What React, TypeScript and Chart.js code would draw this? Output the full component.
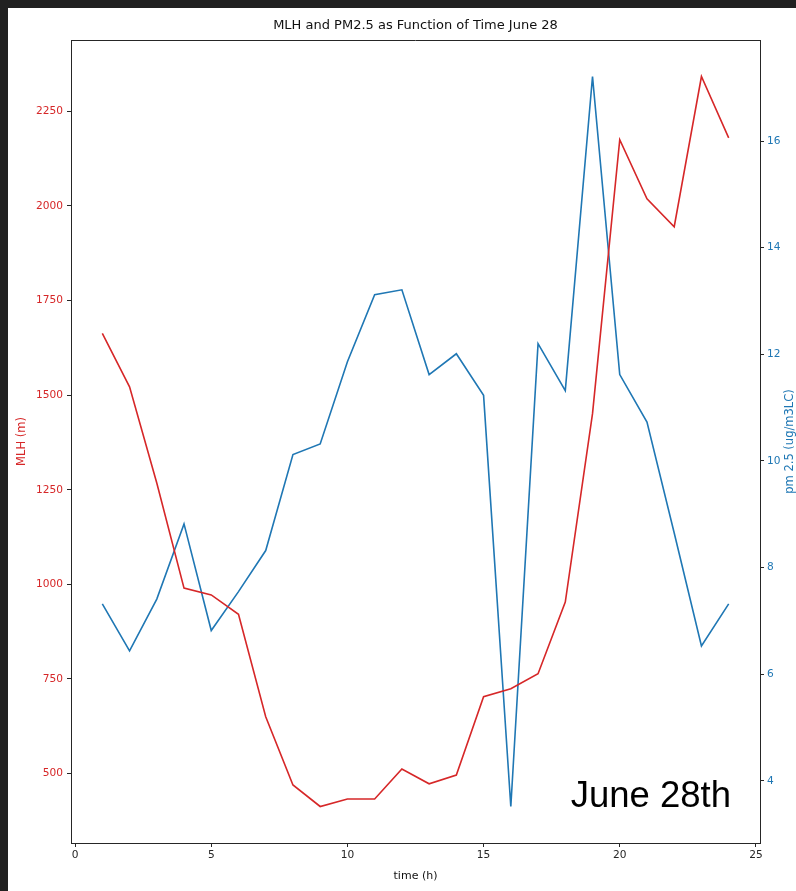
import { useEffect, useRef } from 'react';
import { Chart, registerables } from 'chart.js';

Chart.register(...registerables);

// Hour of day
const hours = [1, 2, 3, 4, 5, 6, 7, 8, 9, 10, 11, 12, 13, 14, 15, 16, 17, 18, 19, 20, 21, 22, 23, 24];

// Mixing layer height (m)
const mlh = [
  1663, 1522, 1268, 990, 972, 921, 650, 470, 413, 433, 433, 512,
  473, 496, 703, 724, 764, 953, 1451, 2175, 2019, 1945, 2342, 2180,
];

// PM2.5 concentration (ug/m3LC)
const pm25 = [
  7.32, 6.44, 7.41, 8.82, 6.82, 7.55, 8.32, 10.12, 10.32, 11.86, 13.12, 13.21,
  11.62, 12.01, 11.23, 3.52, 12.2, 11.32, 17.21, 11.62, 10.73, 8.65, 6.53, 7.32,
];

const timeTicks = [0, 5, 10, 15, 20, 25];
const mlhTicks = [500, 750, 1000, 1250, 1500, 1750, 2000, 2250];
const pmTicks = [4, 6, 8, 10, 12, 14, 16];

const TITLE = 'MLH and PM2.5 as Function of Time June 28';
const X_TITLE = 'time (h)';
const Y_TITLE = 'MLH (m)';
const Y2_TITLE = 'pm 2.5 (ug/m3LC)';
const NOTE = 'June 28th';

const RED = '#d62728';
const BLUE = '#1f77b4';
const INK = '#262626';
const FONT = "'DejaVu Sans', sans-serif";

// Data limits with a 5% margin on each side
function paddedRange(values: number[], frac = 0.05): [number, number] {
  const lo = Math.min(...values);
  const hi = Math.max(...values);
  const span = hi - lo;
  return [lo - span * frac, hi + span * frac];
}

const plainNumber = (v: number | string) => String(v);

const textPlugin = {
  id: 'frameAndText',
  afterDraw(chart: Chart) {
    const { ctx, chartArea } = chart;
    const { left, right, top, bottom } = chartArea;
    ctx.save();

    // top spine
    ctx.strokeStyle = INK;
    ctx.lineWidth = 1;
    ctx.beginPath();
    ctx.moveTo(left, top + 0.5);
    ctx.lineTo(right, top + 0.5);
    ctx.stroke();

    // chart title, centred over the plot area
    ctx.fillStyle = '#111';
    ctx.font = `13px ${FONT}`;
    ctx.textAlign = 'center';
    ctx.textBaseline = 'middle';
    ctx.fillText(TITLE, (left + right) / 2, top - 14);

    // right axis title, reading bottom to top
    ctx.save();
    ctx.translate(right + 30, (top + bottom) / 2);
    ctx.rotate(-Math.PI / 2);
    ctx.fillStyle = BLUE;
    ctx.font = `11.5px ${FONT}`;
    ctx.fillText(Y2_TITLE, 0, 0);
    ctx.restore();

    // date note in the lower right corner
    ctx.fillStyle = '#000';
    ctx.font = "36.5px 'Liberation Sans', Arial, sans-serif";
    ctx.textAlign = 'right';
    ctx.textBaseline = 'alphabetic';
    ctx.fillText(NOTE, right - 29, bottom - 36);

    ctx.restore();
  },
};

export default function App() {
  const canvasRef = useRef<HTMLCanvasElement | null>(null);

  useEffect(() => {
    document.body.style.background = '#212121';
    const canvas = canvasRef.current;
    if (!canvas) return;

    const [xMin, xMax] = paddedRange(hours);
    const [yMin, yMax] = paddedRange(mlh);
    const [y2Min, y2Max] = paddedRange(pm25);

    const chart = new Chart(canvas, {
      type: 'line',
      data: {
        datasets: [
          {
            label: 'MLH',
            data: hours.map((h, i) => ({ x: h, y: mlh[i] })),
            borderColor: RED,
            borderWidth: 1.6,
            pointRadius: 0,
            tension: 0,
            yAxisID: 'y',
          },
          {
            label: 'PM2.5',
            data: hours.map((h, i) => ({ x: h, y: pm25[i] })),
            borderColor: BLUE,
            borderWidth: 1.6,
            pointRadius: 0,
            tension: 0,
            yAxisID: 'y2',
          },
        ],
      },
      options: {
        animation: false,
        responsive: false,
        layout: { padding: { top: 32, left: 0, right: 0, bottom: 0 } },
        plugins: {
          legend: { display: false },
          title: { display: false },
          tooltip: { enabled: false },
        },
        scales: {
          x: {
            type: 'linear',
            min: xMin,
            max: xMax,
            afterBuildTicks: (s: any) => {
              s.ticks = timeTicks.map((v) => ({ value: v }));
            },
            afterFit: (s: any) => {
              s.height = 48;
            },
            grid: { drawOnChartArea: false, tickLength: 4, tickColor: INK },
            border: { display: true, color: INK, width: 1 },
            ticks: {
              color: INK,
              padding: 2,
              font: { family: FONT, size: 10.6 },
              maxRotation: 0,
              callback: plainNumber,
            },
            title: {
              display: true,
              text: X_TITLE,
              color: '#111',
              font: { family: FONT, size: 11 },
              padding: { top: 0, bottom: 8.4 },
            },
          },
          y: {
            type: 'linear',
            position: 'left',
            min: yMin,
            max: yMax,
            afterBuildTicks: (s: any) => {
              s.ticks = mlhTicks.map((v) => ({ value: v }));
            },
            afterFit: (s: any) => {
              s.width = 63;
            },
            grid: { drawOnChartArea: false, tickLength: 4, tickColor: INK },
            border: { display: true, color: INK, width: 1 },
            ticks: { color: RED, padding: 4, font: { family: FONT, size: 10.6 }, callback: plainNumber },
            title: {
              display: true,
              text: Y_TITLE,
              color: RED,
              font: { family: FONT, size: 11.5 },
              padding: { top: 7, bottom: 0 },
            },
          },
          y2: {
            type: 'linear',
            position: 'right',
            min: y2Min,
            max: y2Max,
            afterBuildTicks: (s: any) => {
              s.ticks = pmTicks.map((v) => ({ value: v }));
            },
            afterFit: (s: any) => {
              s.width = 36;
            },
            grid: { drawOnChartArea: false, tickLength: 4, tickColor: INK },
            border: { display: true, color: INK, width: 1 },
            ticks: { color: BLUE, padding: 3, font: { family: FONT, size: 10.6 }, callback: plainNumber },
          },
        },
      },
      plugins: [textPlugin],
    });

    return () => chart.destroy();
  }, []);

  return (
    <div
      style={{
        position: 'fixed',
        left: 8,
        top: 8,
        width: 788,
        height: 883,
        background: '#ffffff',
      }}
    >
      <canvas ref={canvasRef} width={788} height={883} style={{ display: 'block', width: 788, height: 883 }} />
    </div>
  );
}
